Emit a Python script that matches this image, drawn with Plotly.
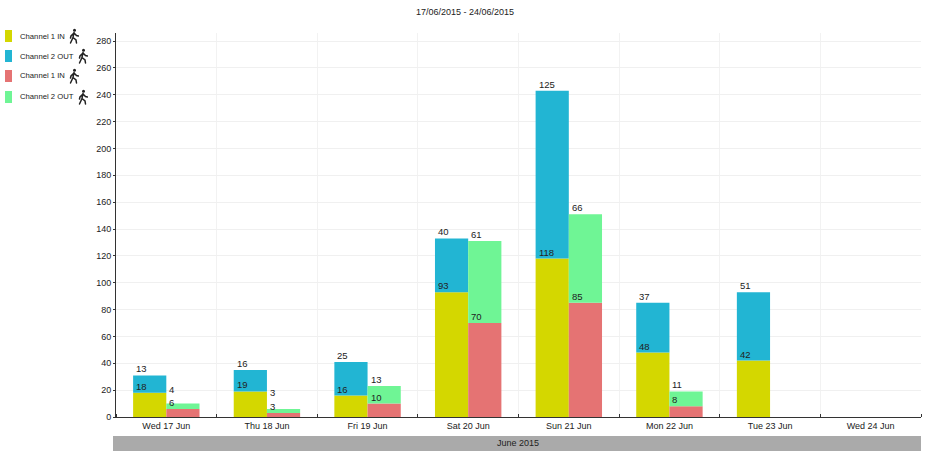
import base64
import plotly.graph_objects as go

title = "17/06/2015 - 24/06/2015"
days = ["Wed 17 Jun", "Thu 18 Jun", "Fri 19 Jun", "Sat 20 Jun", "Sun 21 Jun", "Mon 22 Jun", "Tue 23 Jun", "Wed 24 Jun"]
month = "June 2015"
ch1_in_a = [18, 19, 16, 93, 118, 48, 42, None]
ch2_out_a = [13, 16, 25, 40, 125, 37, 51, None]
ch1_in_b = [6, 3, 10, 70, 85, 8, None, None]
ch2_out_b = [4, 3, 13, 61, 66, 11, None, None]
y_ticks = list(range(0, 281, 20))
legend_names = ["Channel 1 IN", "Channel 2 OUT", "Channel 1 IN", "Channel 2 OUT"]
colors = ["#d4d700", "#22b5d3", "#e57373", "#6ff595"]

W, H = 930, 466
L, R, T, B = 116, 9, 33, 49
PW, PH = W - L - R, H - T - B
FONT = "Liberation Sans, Arial, sans-serif"
TXT = "#222222"

def px(x):
    return (x - L) / PW

def py(y):
    return 1 - (y - T) / PH

xs = list(range(len(days)))
zero = lambda v: [a or 0 for a in v]
fig = go.Figure()
BW = 0.33
series = [
    (ch1_in_a, [0] * 8, "a", colors[0], legend_names[0], {}),
    (ch2_out_a, zero(ch1_in_a), "a", colors[1], legend_names[1], {}),
    (ch1_in_b, [0] * 8, "b", colors[2], legend_names[2], {}),
    # the two crowded green labels sit higher in the reference
    (ch2_out_b, zero(ch1_in_b), "b", colors[3], legend_names[3], {0: 8, 1: 10}),
]
annotations = []
for vals, base, grp, col, name, lift in series:
    off = -BW if grp == "a" else 0
    fig.add_trace(go.Bar(x=xs, y=vals, base=base, width=BW, offset=off, marker_color=col,
                         marker_line_width=0, name=name, showlegend=False))
    for i, v in enumerate(vals):
        if v is None:
            continue
        annotations.append(dict(x=i + off + 0.01, y=base[i] + v, xref="x", yref="y", text=str(v),
                                showarrow=False, xanchor="left", yanchor="bottom", yshift=-1 + lift.get(i, 0),
                                font=dict(family=FONT, size=9.5, color=TXT)))

# legend
shapes = []
images = []
walker = ('<svg xmlns="http://www.w3.org/2000/svg" viewBox="0 0 20 30">'
          '<circle cx="11" cy="3.5" r="3" fill="#222"/>'
          '<path d="M10 8 L8 18 L3 29 M8 18 L14 23 L15 29 M10 9 L4 15 L3 19 M10 9 L15 14 L19 15" '
          'stroke="#222" stroke-width="3" fill="none" stroke-linecap="round"/></svg>')
walker_uri = "data:image/svg+xml;base64," + base64.b64encode(walker.encode()).decode()
rows = [36, 56, 76, 97]
icon_x = [69, 78, 69, 78]
for name, col, yc, ix in zip(legend_names, colors, rows, icon_x):
    shapes.append(dict(type="rect", xref="paper", yref="paper", x0=px(5), x1=px(12), y0=py(yc - 6), y1=py(yc + 6),
                       fillcolor=col, line_width=0, layer="above"))
    annotations.append(dict(x=px(18), y=py(yc), xref="paper", yref="paper", text=name, showarrow=False,
                            xanchor="left", yanchor="middle", font=dict(family=FONT, size=7.7, color=TXT)))
    images.append(dict(source=walker_uri, xref="paper", yref="paper", x=px(ix), y=py(yc - 8),
                       sizex=10 / PW, sizey=16 / PH, xanchor="left", yanchor="top", sizing="contain", layer="above"))

# month band
shapes.append(dict(type="rect", xref="paper", yref="paper", x0=px(113), x1=px(921), y0=py(436), y1=py(451),
                   fillcolor="#aaaaaa", line_width=0))
annotations.append(dict(x=px(518), y=py(443), xref="paper", yref="paper", text=month, showarrow=False,
                        xanchor="center", yanchor="middle", font=dict(family=FONT, size=9, color=TXT)))
annotations.append(dict(x=px(465), y=py(12), xref="paper", yref="paper", text=title, showarrow=False,
                        xanchor="center", yanchor="middle", font=dict(family=FONT, size=9, color=TXT)))

fig.update_layout(
    width=W, height=H, margin=dict(l=L, r=R, t=T, b=B), plot_bgcolor="white", paper_bgcolor="white",
    barmode="overlay", showlegend=False, annotations=annotations, shapes=shapes, images=images,
    font=dict(family=FONT, size=9, color=TXT),
    xaxis=dict(range=[-0.5, 7.5], tickmode="array", tickvals=xs, ticktext=days, ticks="", showgrid=False,
               showline=True, linecolor="#333333", linewidth=1, zeroline=False, tickfont=dict(size=9),
               minor=dict(tickmode="array", tickvals=[i - 0.5 for i in range(9)], showgrid=True,
                          gridcolor="#f2f2f2", gridwidth=1, ticks="inside", ticklen=3,
                          tickcolor="#333333")),
    yaxis=dict(range=[0, 286], tickmode="array", tickvals=y_ticks, showgrid=True, gridcolor="#f0f0f0", gridwidth=1,
               showline=True, linecolor="#333333", linewidth=1, zeroline=False, ticks="outside", ticklen=2,
               tickcolor="#333333", tickfont=dict(size=9)),
)
fig.write_html("out.html", config={"displayModeBar": False},
               post_script="document.body.style.margin='0';document.body.style.overflow='hidden';")
